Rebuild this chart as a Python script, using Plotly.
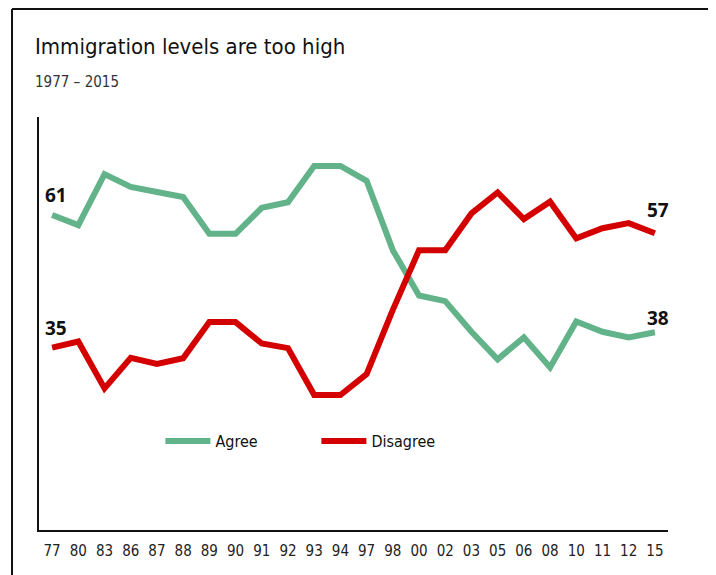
import plotly.graph_objects as go

years = ["77", "80", "83", "86", "87", "88", "89", "90", "91", "92", "93", "94",
         "97", "98", "00", "02", "03", "05", "06", "08", "10", "11", "12", "15"]
agree = [61, 59, 69, 66.5, 65.5, 64.5, 57.3, 57.3, 62.4, 63.5, 70.6, 70.6,
         67.7, 54.1, 45.2, 44.1, 38.1, 32.7, 37, 31.1, 40.1, 38.1, 37, 38]
disagree = [35, 36.2, 27, 33, 31.8, 32.9, 40, 40, 35.8, 34.9, 25.7, 25.7,
            29.8, 42.4, 54.1, 54.1, 61.3, 65.4, 60.2, 63.6, 56.4, 58.4, 59.4, 57.4]

GREEN = "#62b28a"
RED = "#d40000"
NARROW = "DejaVu Sans Condensed, sans-serif"
BOLD = "Open Sans, DejaVu Sans, sans-serif"

fig = go.Figure()
fig.add_trace(go.Scatter(x=years, y=agree, mode="lines", name="Agree",
                         line=dict(color=GREEN, width=6)))
fig.add_trace(go.Scatter(x=years, y=disagree, mode="lines", name="Disagree",
                         line=dict(color=RED, width=6)))

# end labels (category index positions)
last = len(years) - 1
labels = [
    (0, agree[0], "61", 20, 4),
    (0, disagree[0], "35", 20, 4),
    (last, disagree[-1], "57", 23, 3),
    (last, agree[-1], "38", 14, 3),
]
for x, y, t, ys, xs in labels:
    fig.add_annotation(x=x, y=y, text=f"<b>{t}</b>", showarrow=False,
                       yshift=ys, xshift=xs,
                       font=dict(family=BOLD, size=19, color="#111"))

# title and subtitle
fig.add_annotation(xref="paper", yref="paper", x=-0.0095, y=1.207,
                   xanchor="left", yanchor="top", showarrow=False,
                   text="Immigration levels are too high",
                   font=dict(family=NARROW, size=22, color="#111"))
fig.add_annotation(xref="paper", yref="paper", x=-0.0095, y=1.112,
                   xanchor="left", yanchor="top", showarrow=False,
                   text="1977 \u2013 2015",
                   font=dict(family=NARROW, size=15, color="#333"))

# outer frame (top and left edges)
fig.add_shape(type="line", xref="paper", yref="paper",
              x0=-0.0429, x1=1.12, y0=1.2615, y1=1.2615,
              line=dict(color="#111", width=2))
fig.add_shape(type="line", xref="paper", yref="paper",
              x0=-0.0429, x1=-0.0429, y0=1.2615, y1=-0.15,
              line=dict(color="#111", width=2))

# page body adds an 8px offset, so margins are reduced by 8
fig.update_layout(
    width=716, height=575,
    margin=dict(l=31, r=56, t=109, b=53),
    plot_bgcolor="white", paper_bgcolor="white",
    showlegend=True,
    legend=dict(orientation="h", x=0.193, y=0.2155, yanchor="middle",
                xanchor="left", entrywidth=96, entrywidthmode="pixels",
                itemwidth=45,
                font=dict(family=NARROW, size=16, color="#111"),
                bgcolor="rgba(0,0,0,0)"),
    xaxis=dict(type="category", range=[-0.5, 23.5], showgrid=False,
               showline=True, linecolor="#111", linewidth=1.5,
               ticks="", ticklabelstandoff=6,
               tickfont=dict(family=NARROW, size=15, color="#222"),
               fixedrange=True),
    yaxis=dict(range=[-0.76, 80.2], showgrid=False, zeroline=False,
               showline=True, linecolor="#111", linewidth=1.5,
               showticklabels=False, ticks="", fixedrange=True),
)

fig.write_html("out.html")
